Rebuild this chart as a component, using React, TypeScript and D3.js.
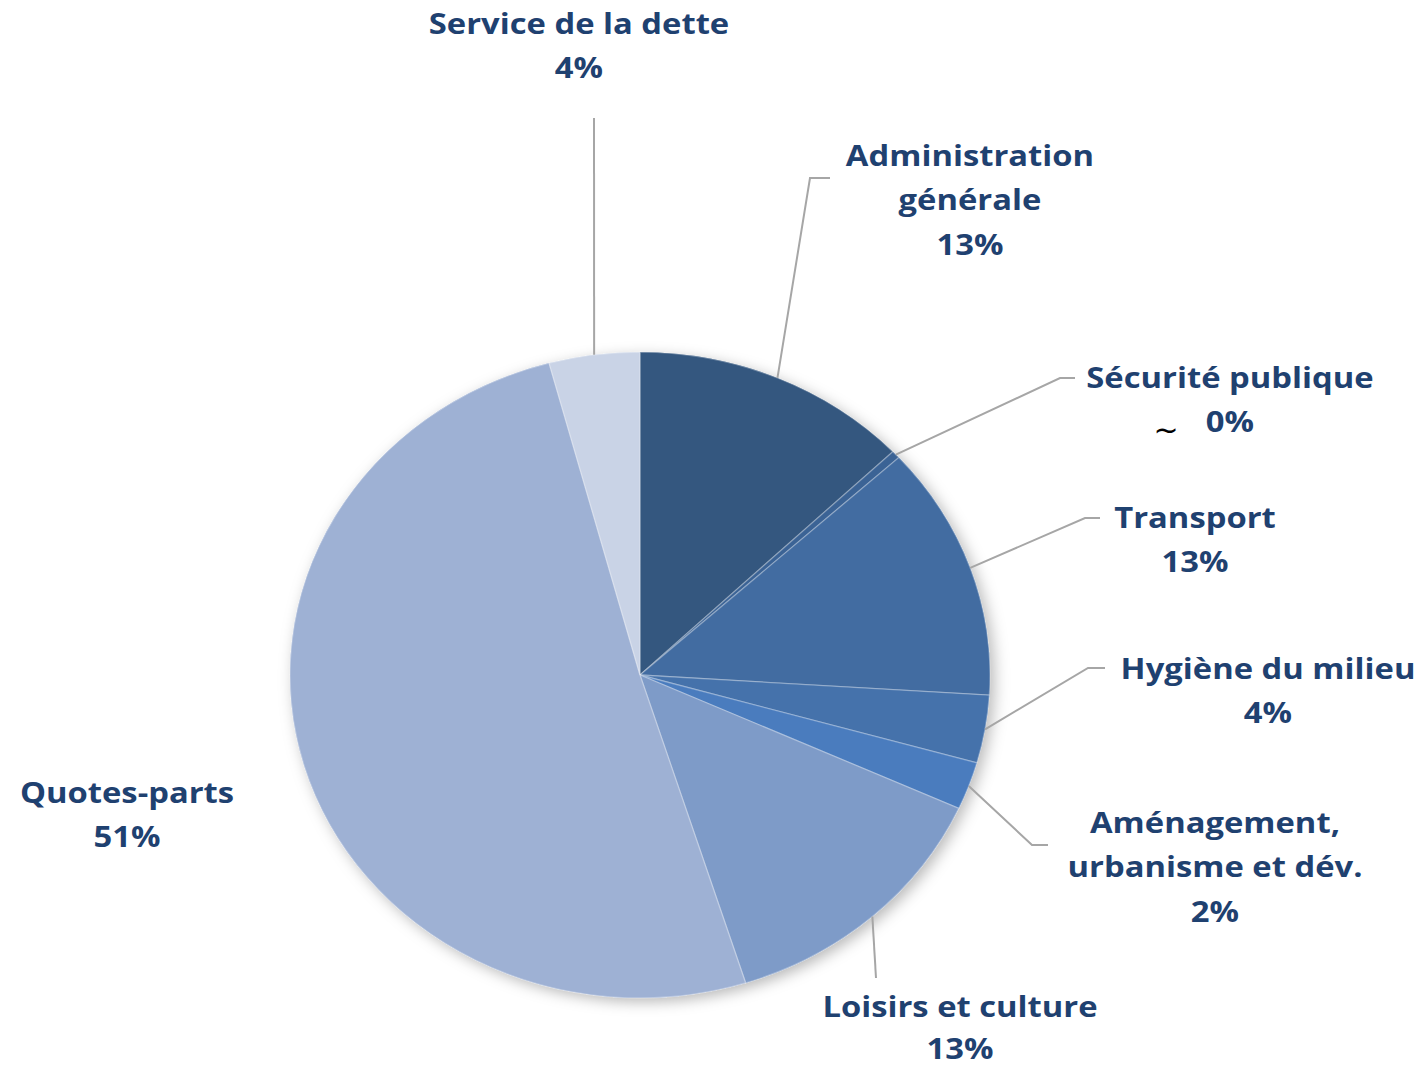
import React from "react";
import * as d3 from "d3";

const categories = [
  "Administration générale",
  "Sécurité publique",
  "Transport",
  "Hygiène du milieu",
  "Aménagement, urbanisme et dév.",
  "Loisirs et culture",
  "Quotes-parts",
  "Service de la dette",
];
const shares = [12.9, 0.4, 12.8, 3.4, 2.4, 13.4, 50.9, 4.2];
const pctLabels = ["13%", "0%", "13%", "4%", "2%", "13%", "51%", "4%"];
const labelLines = [
  ["Administration", "générale", "13%"],
  ["Sécurité publique", "0%"],
  ["Transport", "13%"],
  ["Hygiène du milieu", "4%"],
  ["Aménagement,", "urbanisme et dév.", "2%"],
  ["Loisirs et culture", "13%"],
  ["Quotes-parts", "51%"],
  ["Service de la dette", "4%"],
];
const colors = ["#34577f", "#3b6395", "#426ca1", "#4572ab", "#4a7cbe", "#7e9bc8", "#9eb1d4", "#c9d3e6"];

// layout (styles/positions)
const CX = 640, CY = 675, RY = 323, RX = 350;
const SX = RX / RY;
const leaders: (null | { pts: [number, number][] })[] = [
  { pts: [[810, 178], [830, 178]] },
  { pts: [[1060, 378], [1075, 378]] },
  { pts: [[1085, 518], [1100, 518]] },
  { pts: [[1088, 668], [1105, 668]] },
  { pts: [[1032, 845], [1048, 845]] },
  { pts: [[876, 978]] },
  null,
  { pts: [[594, 118]] },
];
const labelPos: [number, number][] = [
  [970, 166],
  [1230, 388],
  [1195, 528],
  [1268, 679],
  [1215, 833],
  [960, 1017],
  [127, 803],
  [579, 34],
];
const LINE_H = 44.5;

export default function App() {
  const pie = d3.pie<number>().sort(null).value((d) => d);
  const arcs = pie(shares);
  const arc = d3.arc<d3.PieArcDatum<number>>().innerRadius(0).outerRadius(RY);
  const edge = (a: d3.PieArcDatum<number>) => {
    const m = (a.startAngle + a.endAngle) / 2;
    return [CX + RX * Math.sin(m), CY - RY * Math.cos(m)] as [number, number];
  };
  return (
    <svg width={1427} height={1070} style={{ display: "block", position: "absolute", left: 0, top: 0 }}>
      <defs>
        <filter id="sh" x="-20%" y="-20%" width="140%" height="140%">
          <feDropShadow dx="4" dy="4" stdDeviation="7" floodColor="#000" floodOpacity="0.28" />
        </filter>
      </defs>
      <rect width={1427} height={1070} fill="#fff" />
      <g transform={`translate(${CX},${CY}) scale(${SX},1)`}>
        <g filter="url(#sh)">
          {arcs.map((a, i) => (
            <path key={"b" + i} d={arc(a) || ""} fill={colors[i]} />
          ))}
        </g>
        {arcs.map((a, i) => (
          <path
            key={i}
            d={arc(a) || ""}
            fill={colors[i]}
            stroke="#ffffff"
            strokeOpacity={0.3}
            strokeWidth={1.3}
            vectorEffect="non-scaling-stroke"
          />
        ))}
      </g>
      {arcs.map((a, i) => {
        const L = leaders[i];
        if (!L) return null;
        const s = edge(a);
        const pts = [s, ...L.pts];
        return (
          <polyline
            key={"l" + i}
            points={pts.map((p) => p.join(",")).join(" ")}
            fill="none"
            stroke="#a6a6a6"
            strokeWidth={2}
          />
        );
      })}
      {labelLines.map((lines, i) => (
        <g key={"t" + i} transform={`translate(${labelPos[i][0]},${labelPos[i][1]}) scale(1.13,1)`}>
          <text
            textAnchor="middle"
            fontFamily="'Open Sans', sans-serif"
            fontWeight={700}
            fontSize={29}
            fill="#1f4170"
          >
            {lines.map((ln, j) => (
              <tspan key={j} x={0} y={j * (i === 5 ? 42 : LINE_H)}>
                {ln}
              </tspan>
            ))}
          </text>
        </g>
      ))}
      <text x={1166} y={440} textAnchor="middle" fontFamily="'DejaVu Sans', sans-serif" fontSize={30} fill="#000">
        ~
      </text>
    </svg>
  );
}
